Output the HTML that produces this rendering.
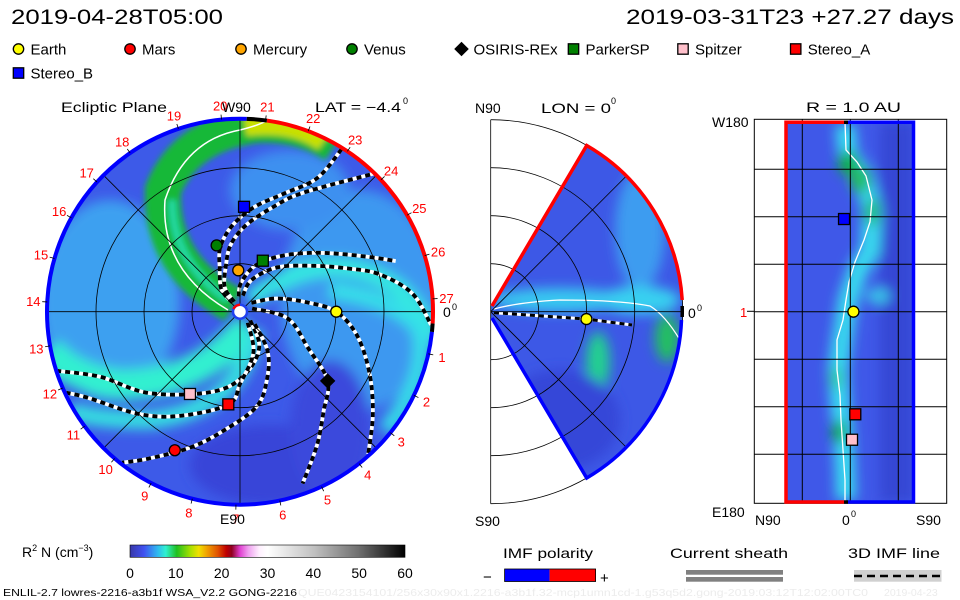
<!DOCTYPE html>
<html><head><meta charset="utf-8"><style>
html,body{margin:0;padding:0;background:#fff;}
svg{display:block;font-family:"Liberation Sans",sans-serif;}
</style></head><body>
<svg id="root" width="960" height="600" viewBox="0 0 960 600" xmlns="http://www.w3.org/2000/svg">
<defs>
  <filter id="blur6" x="-30%" y="-30%" width="160%" height="160%"><feGaussianBlur stdDeviation="6"/></filter>
  <filter id="blur3" x="-30%" y="-30%" width="160%" height="160%"><feGaussianBlur stdDeviation="3"/></filter>
  <clipPath id="clipMain"><circle cx="240" cy="311.7" r="193"/></clipPath>
  <clipPath id="clipMid"><path d="M491,306 L587,145.5 A192,192 0 0 1 587,478 L491,318 Z"/></clipPath>
  <clipPath id="clipRight"><rect x="786" y="122" width="128" height="380"/></clipPath>
  <linearGradient id="cbar" x1="0" x2="1" y1="0" y2="0">
    <stop offset="0" stop-color="#3838a8"/><stop offset="0.05" stop-color="#4050f0"/>
    <stop offset="0.1" stop-color="#30b8f0"/><stop offset="0.13" stop-color="#30f0d0"/>
    <stop offset="0.17" stop-color="#20c020"/><stop offset="0.22" stop-color="#a8e000"/>
    <stop offset="0.25" stop-color="#f0e000"/><stop offset="0.28" stop-color="#f0a000"/>
    <stop offset="0.32" stop-color="#e05000"/><stop offset="0.35" stop-color="#c00000"/>
    <stop offset="0.37" stop-color="#900020"/><stop offset="0.4" stop-color="#e040d0"/>
    <stop offset="0.43" stop-color="#f0a0f0"/><stop offset="0.47" stop-color="#fff0ff"/>
    <stop offset="0.5" stop-color="#ffffff"/><stop offset="0.67" stop-color="#c0c0c0"/>
    <stop offset="0.83" stop-color="#707070"/><stop offset="1" stop-color="#000000"/>
  </linearGradient>
</defs>

<text x="11" y="24" font-size="21" textLength="212" lengthAdjust="spacingAndGlyphs">2019-04-28T05:00</text>
<text x="626" y="24" font-size="21" textLength="328" lengthAdjust="spacingAndGlyphs">2019-03-31T23 +27.27 days</text>

<g id="legend" font-size="15"></g>

<g id="main">
  <g clip-path="url(#clipMain)">
    <circle cx="240" cy="311.7" r="193" fill="#3d5ae8"/>
    <g filter="url(#blur6)">
      <ellipse cx="110" cy="300" rx="70" ry="100" fill="#3ca0f0"/>
      <ellipse cx="360" cy="300" rx="80" ry="110" fill="#3c98f0" />
      <ellipse cx="290" cy="190" rx="60" ry="40" fill="#3c90f0"/>
      <ellipse cx="270" cy="465" rx="80" ry="40" fill="#3744d8"/>
      <ellipse cx="330" cy="430" rx="40" ry="70" fill="#3a48dc"/>
      <path d="M250,300 Q330,240 400,290 Q430,320 430,340" stroke="#35e8e0" stroke-width="18" fill="none"/>
      <path d="M248,325 Q200,385 120,385 Q70,378 48,350" stroke="#30f0d0" stroke-width="30" fill="none"/>
      <path d="M255,330 Q240,410 150,420 Q90,420 70,410" stroke="#35e0e0" stroke-width="18" fill="none"/>
      <path d="M330,290 Q400,300 420,330 Q430,380 385,430" stroke="#35e0e8" stroke-width="16" fill="none"/>
    </g>
    <g filter="url(#blur3)">
      <path d="M233,305 Q160,265 163,190 Q185,135 255,125 Q300,122 335,145" stroke="#18b838" stroke-width="36" fill="none"/>
      <path d="M245,124 Q295,118 325,140" stroke="#c8e000" stroke-width="24" fill="none"/>
      <path d="M228,300 Q172,262 172,200" stroke="#20d8a0" stroke-width="8" fill="none"/>
    </g>
    <path d="M228,310 Q160,270 165,200 Q185,140 240,130 Q260,125 268,120" stroke="#fff" stroke-width="1.5" fill="none"/>
    <g id="fieldLines"></g>
  </g>
  <g stroke="#000" stroke-width="0.8" fill="none">
    <circle cx="240" cy="311.7" r="48"/><circle cx="240" cy="311.7" r="96"/><circle cx="240" cy="311.7" r="144"/>
    <line x1="47" y1="311.7" x2="433" y2="311.7"/><line x1="240" y1="118.7" x2="240" y2="504.7"/>
    <line x1="103.5" y1="175.2" x2="376.5" y2="448.2"/><line x1="103.5" y1="448.2" x2="376.5" y2="175.2"/>
  </g>
  <g id="ring"></g>
  <circle cx="240" cy="311.7" r="7" fill="#fff" stroke="#2040f0" stroke-width="2.5"/>
  <path d="M233.5,309 A7,7 0 0 1 240,304.7" stroke="#f00" stroke-width="2.5" fill="none"/>
  <g id="mainBodies"></g>
  <g id="angleLabels" fill="#f00" font-size="13"></g>
  <text x="61" y="112" font-size="14" textLength="106" lengthAdjust="spacingAndGlyphs">Ecliptic Plane</text>
  <text x="222" y="112" font-size="14">W90</text>
  <text x="220" y="524" font-size="14">E90</text>
  <text x="315" y="112" font-size="14" textLength="86" lengthAdjust="spacingAndGlyphs">LAT = −4.4</text>
  <text x="403" y="104" font-size="9">0</text>
  <text x="443" y="317" font-size="14">0</text>
  <text x="452" y="310" font-size="9">0</text>
</g>

<g id="mid">
  <g clip-path="url(#clipMid)">
    <rect x="480" y="140" width="210" height="345" fill="#3d58e6"/>
    <g filter="url(#blur6)">
      <ellipse cx="640" cy="230" rx="25" ry="60" fill="#3c9cf0"/>
      <ellipse cx="560" cy="300" rx="70" ry="12" fill="#38c8f0"/>
      <ellipse cx="640" cy="300" rx="40" ry="14" fill="#38d0f0"/>
      <ellipse cx="598" cy="362" rx="12" ry="30" fill="#20d090"/>
      <ellipse cx="667" cy="338" rx="12" ry="24" fill="#20c060"/>
      <ellipse cx="560" cy="420" rx="60" ry="50" fill="#3646d8"/>
    </g>
    <path d="M494,309 Q520,302 560,300 Q620,300 650,306 Q665,315 680,340" stroke="#fff" stroke-width="1.3" fill="none"/>
    <path d="M494,312.7 L586,319 L632,325" stroke="#fff" stroke-width="3" fill="none"/>
    <path d="M494,312.7 L586,319 L632,325" stroke="#000" stroke-width="3" stroke-dasharray="5,4" fill="none"/>
  </g>
  <g stroke="#000" stroke-width="0.8" fill="none">
    <line x1="490.7" y1="119.7" x2="490.7" y2="503.7"/>
    <path d="M490.7,263.7 A48,48 0 0 1 490.7,359.7"/>
    <path d="M490.7,215.7 A96,96 0 0 1 490.7,407.7"/>
    <path d="M490.7,167.7 A144,144 0 0 1 490.7,455.7"/>
    <path d="M490.7,119.7 A192,192 0 0 1 490.7,503.7"/>
    <line x1="490.7" y1="311.7" x2="682.7" y2="311.7"/>
    <line x1="490.7" y1="311.7" x2="626.5" y2="175.9"/>
    <line x1="490.7" y1="311.7" x2="626.5" y2="447.5"/>
  </g>
  <path d="M492,306 L586.7,145.5 A192,192 0 0 1 682.2,300" stroke="#f00" stroke-width="3.5" fill="none"/>
  <path d="M682.2,306 A192,192 0 0 1 682.2,317" stroke="#000" stroke-width="3.5" fill="none"/>
  <path d="M681.5,320 A192,192 0 0 1 586.7,478 L492,318" stroke="#00f" stroke-width="3.5" fill="none"/>
  <g id="midBodies"></g>
  <text x="475" y="113" font-size="14">N90</text>
  <text x="541" y="113" font-size="14" textLength="70" lengthAdjust="spacingAndGlyphs">LON = 0</text>
  <text x="611" y="104" font-size="9">0</text>
  <text x="475" y="526" font-size="14">S90</text>
  <text x="688" y="318" font-size="14">0</text>
  <text x="697" y="311" font-size="9">0</text>
</g>

<g id="right">
  <g clip-path="url(#clipRight)">
    <rect x="786" y="122" width="128" height="380" fill="#3f58e8"/>
    <g filter="url(#blur6)">
      <rect x="880" y="122" width="34" height="380" fill="#3646d4"/>
      <path d="M845,125 L848,155 L862,175 L872,210 L870,250 L858,270 L848,300 L842,340 L838,370 L840,400 L843,430 L845,470 L846,500" stroke="#38d8ee" stroke-width="20" fill="none"/>
      <ellipse cx="848" cy="163" rx="10" ry="12" fill="#10b040"/>
      <ellipse cx="860" cy="180" rx="10" ry="14" fill="#20c060"/>
      <ellipse cx="872" cy="212" rx="8" ry="14" fill="#20c080"/>
      <ellipse cx="878" cy="296" rx="12" ry="8" fill="#38c8e8"/>
      <ellipse cx="839" cy="432" rx="7" ry="12" fill="#10b040"/>
      <ellipse cx="836" cy="378" rx="6" ry="12" fill="#30d0a0"/>
    </g>
    <path d="M845,122 L846,150 L857,162 L866,176 L872,200 L870,222 L864,240 L855,262 L849,282 L846,300 L843,320 L837,340 L837,370 L840,395 L841,420 L843,450 L845,480 L845,502" stroke="#fff" stroke-width="1.3" fill="none"/>
  </g>
  <g stroke="#000" stroke-width="1" fill="none">
    <rect x="754.3" y="119.3" width="192.4" height="384"/>
    <line x1="802.3" y1="119.3" x2="802.3" y2="503.3"/><line x1="850.3" y1="119.3" x2="850.3" y2="503.3"/><line x1="898.3" y1="119.3" x2="898.3" y2="503.3"/>
    <g id="hgrid"></g>
  </g>
  <path d="M844,122.3 L786,122.3 L786,502 L844,502" stroke="#f00" stroke-width="3.5" fill="none"/>
  <path d="M848,122.3 L913.5,122.3 L913.5,502 L848,502" stroke="#00f" stroke-width="3.5" fill="none"/>
  <line x1="844" y1="122.3" x2="848" y2="122.3" stroke="#000" stroke-width="3.5"/>
  <line x1="844" y1="502" x2="848" y2="502" stroke="#000" stroke-width="3.5"/>
  <line x1="747" y1="311.3" x2="754" y2="311.3" stroke="#000" stroke-width="1"/>
  <g id="rightBodies"></g>
  <text x="712" y="127" font-size="14">W180</text>
  <text x="806" y="112" font-size="14" textLength="95" lengthAdjust="spacingAndGlyphs">R = 1.0 AU</text>
  <text x="712" y="517" font-size="14">E180</text>
  <text x="740" y="317" font-size="13" fill="#f00">1</text>
  <text x="755" y="525" font-size="14">N90</text>
  <text x="842" y="525" font-size="14">0</text>
  <text x="851" y="517" font-size="9">0</text>
  <text x="916" y="525" font-size="14">S90</text>
</g>

<g>
  <text x="22" y="557" font-size="14">R<tspan font-size="9" dy="-6">2</tspan><tspan dy="6"> N (cm</tspan><tspan font-size="9" dy="-6">−3</tspan><tspan dy="6">)</tspan></text>
  <rect x="130" y="545" width="275" height="12.3" fill="url(#cbar)" stroke="#000" stroke-width="0.6"/>
  <g id="cbTicks" font-size="14" text-anchor="middle"></g>
</g>
<g>
  <text x="503" y="558" font-size="14" textLength="90" lengthAdjust="spacingAndGlyphs">IMF polarity</text>
  <text x="483" y="582" font-size="15">−</text>
  <rect x="504.6" y="569" width="45" height="12.5" fill="#00f"/>
  <rect x="549.6" y="569" width="46" height="12.5" fill="#f00"/>
  <rect x="504.6" y="569" width="91" height="12.5" fill="none" stroke="#000" stroke-width="0.8"/>
  <text x="600" y="583" font-size="15">+</text>
</g>
<g>
  <text x="670" y="558" font-size="14" textLength="118" lengthAdjust="spacingAndGlyphs">Current sheath</text>
  <rect x="686" y="570" width="97" height="4.7" fill="#808080"/>
  <rect x="686" y="577" width="97" height="4.7" fill="#808080"/>
</g>
<g>
  <text x="848" y="558" font-size="14" textLength="92" lengthAdjust="spacingAndGlyphs">3D IMF line</text>
  <rect x="854" y="570" width="87.5" height="11.7" fill="#d0d0d0"/>
  <line x1="854" y1="576" x2="941.5" y2="576" stroke="#000" stroke-width="2.5" stroke-dasharray="8,5"/>
</g>
<text x="3" y="596" font-size="10.5" textLength="294" lengthAdjust="spacingAndGlyphs">ENLIL-2.7 lowres-2216-a3b1f WSA_V2.2 GONG-2216</text>
<text x="298" y="596" font-size="10.5" fill="#ececec" textLength="570" lengthAdjust="spacingAndGlyphs">QUE0423154101/256x30x90x1.2216-a3b1f.32-mcp1umn1cd-1.g53q5d2.gong-2019:03:12T12:02:00TC0</text>
<text x="884" y="596" font-size="10.5" fill="#ececec">2019-04-23</text>
</svg>

<script>
const NS = "http://www.w3.org/2000/svg";
// ---- data ----
const bodyNames = ["Earth","Mars","Mercury","Venus","OSIRIS-REx","ParkerSP","Spitzer","Stereo_A","Stereo_B"];
const bodyShapes = ["circle","circle","circle","circle","diamond","square","square","square","square"];
const bodyColors = ["#ffff00","#ff0000","#ffa500","#008000","#000000","#008000","#ffc0cb","#ff0000","#0000ff"];
const bodyRadiusAU = [1.0, 1.59, 0.43, 0.73, 1.16, 0.58, 1.0, 0.97, 1.09];
const bodyLonDeg = [0, -115.2, 92.4, 109.4, -38.3, 65.9, -121.3, -97.2, 87.8];
const bodyLatDeg = [-4.4, 0, 0, 0, 0, 0, -2.4, -7, 8.8];
const rightPanelBodies = ["Earth","Stereo_B","Stereo_A","Spitzer"];
const colorbarTicks = [0,10,20,30,40,50,60];
const latGridLons = [135,90,45,0,-45,-90,-135];
const fieldLines = [
 [[0.12,130],[0.3,130],[0.5,115],[0.7,107],[0.9,95],[1.1,82],[1.3,70],[1.6,60],[1.99,58]],
 [[0.12,120],[0.3,122],[0.5,107],[0.7,98],[0.9,86],[1.15,72],[1.4,62],[1.99,46]],
 [[0.16,95],[0.3,88],[0.5,72],[0.7,55],[0.95,40],[1.2,30],[1.5,22],[1.7,18]],
 [[0.17,80],[0.35,70],[0.6,50],[0.9,32],[1.2,22],[1.5,15],[1.8,6],[1.99,-4]],
 [[0.15,38],[0.4,20],[0.7,8],[1.0,0],[1.25,-12],[1.5,-26],[1.75,-38],[1.99,-48]],
 [[0.13,15],[0.5,-8],[0.8,-28],[1.16,-38.3],[1.35,-50],[1.6,-60],[1.9,-70]],
 [[0.14,-40],[0.4,-60],[0.6,-80],[0.8,-100],[1.0,-121],[1.3,-140],[1.6,-155],[1.99,-162]],
 [[0.14,-55],[0.45,-72],[0.75,-90],[0.97,-97],[1.25,-120],[1.5,-135],[1.8,-150],[1.99,-155]],
 [[0.2,-40],[0.5,-55],[0.75,-68],[1.0,-80],[1.25,-98],[1.5,-110],[1.8,-122],[1.99,-128]]
];
// ---- scales ----
const cx = 240, cy = 311.7, pxPerAU = 96.3;
function polar(rAU, lonDeg){ const a = -lonDeg*Math.PI/180; return [cx + rAU*pxPerAU*Math.cos(a), cy + rAU*pxPerAU*Math.sin(a)]; }
const rx0 = 850.3, ry0 = 311.7;
function rightX(lat){ return rx0 - lat*(128.3/180); }
function rightY(lon){ return ry0 - lon*(380/360); }
function cbX(v){ return 130 + v/60*275; }
function smooth(pts){
  let d = "M"+pts[0][0].toFixed(1)+","+pts[0][1].toFixed(1);
  for(let i=0;i<pts.length-1;i++){
    const p0=pts[Math.max(0,i-1)],p1=pts[i],p2=pts[i+1],p3=pts[Math.min(pts.length-1,i+2)];
    const c1=[p1[0]+(p2[0]-p0[0])/6,p1[1]+(p2[1]-p0[1])/6], c2=[p2[0]-(p3[0]-p1[0])/6,p2[1]-(p3[1]-p1[1])/6];
    d+=" C"+c1[0].toFixed(1)+","+c1[1].toFixed(1)+" "+c2[0].toFixed(1)+","+c2[1].toFixed(1)+" "+p2[0].toFixed(1)+","+p2[1].toFixed(1);
  }
  return d;
}
function mk(tag, attrs, parent){ const e=document.createElementNS(NS,tag); for(const k in attrs) e.setAttribute(k,attrs[k]); parent.appendChild(e); return e; }
function marker(parent, shape, color, x, y, s){
  let e;
  if(shape==="circle") e = mk("circle",{cx:x,cy:y,r:s,fill:color,stroke:"#000","stroke-width":1.3},parent);
  else if(shape==="square") e = mk("rect",{x:x-s,y:y-s,width:2*s,height:2*s,fill:color,stroke:"#000","stroke-width":1.3},parent);
  else e = mk("path",{d:`M${x},${y-s*1.4} L${x+s*1.4},${y} L${x},${y+s*1.4} L${x-s*1.4},${y} Z`,fill:color},parent);
  return e;
}
// ---- legend ----
const legend = document.getElementById("legend");
const legX = [18.5,130,241,352,461.5,573.5,683,795.7,18.5];
const legY = [49,49,49,49,49,49,49,49,73];
bodyNames.forEach((n,i)=>{
  const g = mk("g",{},legend);
  
  
  marker(g, bodyShapes[i], bodyColors[i], legX[i], legY[i], 5.2);
  const t = mk("text",{x:legX[i]+12,y:legY[i]+5.5},g); t.textContent = n;
});
// ---- field lines ----
const fl = document.getElementById("fieldLines");
fieldLines.forEach((line)=>{
  const pts = line.map(p=>polar(p[0],p[1]));
  const d = smooth(pts);
  const w = mk("path",{d:d,stroke:"#fff","stroke-width":3.8,fill:"none"},fl);
  
  
  const b = mk("path",{d:d,stroke:"#000","stroke-width":3.8,fill:"none","stroke-dasharray":"5,4"},fl);
  
  
});
// ---- outer ring ----
const ring = document.getElementById("ring");
function arc(a0,a1,color){
  const r=193, p0=[cx+r*Math.cos(a0*Math.PI/180), cy+r*Math.sin(a0*Math.PI/180)], p1=[cx+r*Math.cos(a1*Math.PI/180), cy+r*Math.sin(a1*Math.PI/180)];
  const large = ((a1-a0+360)%360)>180?1:0;
  const e = mk("path",{d:`M${p0[0]},${p0[1]} A${r},${r} 0 ${large} 1 ${p1[0]},${p1[1]}`,stroke:color,"stroke-width":4,fill:"none"},ring);
  
  
}
arc(-82,3.5,"#ff0000"); arc(3.5,6,"#000"); arc(6,272,"#0000ff"); arc(272,278,"#000");
// ---- angle labels ----
const al = document.getElementById("angleLabels");
for(let n=1;n<=27;n++){
  const ang = n<=18 ? 12.6+(n-1)*13.1 : -3.8-(27-n)*13.1;
  const a = ang*Math.PI/180, R = 207;
  const t = mk("text",{x:(cx+R*Math.cos(a)).toFixed(1), y:(cy+R*Math.sin(a)+5).toFixed(1),"text-anchor":"middle"},al);
  
  
  t.textContent = String(n);
  const p0=[cx+193*Math.cos(a),cy+193*Math.sin(a)], p1=[cx+198*Math.cos(a),cy+198*Math.sin(a)];
  mk("line",{x1:p0[0],y1:p0[1],x2:p1[0],y2:p1[1],stroke:"#000","stroke-width":0.8},al);
}
// ---- bodies on ecliptic ----
const mb = document.getElementById("mainBodies");
bodyNames.forEach((n,i)=>{
  const [x,y] = polar(bodyRadiusAU[i], bodyLonDeg[i]);
  const e = marker(mb, bodyShapes[i], bodyColors[i], x, y, 5.5);
  
  
});
// ---- mid panel earth ----
const midB = document.getElementById("midBodies");
{
  const a = bodyLatDeg[0]*Math.PI/180, r = bodyRadiusAU[0]*96;
  const e = marker(midB,"circle",bodyColors[0],490.7+r*Math.cos(a),311.7-r*Math.sin(a),5.5);
  
  
}
// ---- right panel ----
const hg = document.getElementById("hgrid");
latGridLons.forEach(l=>{ mk("line",{x1:754.3,x2:946.7,y1:rightY(l),y2:rightY(l)},hg); });
const rb = document.getElementById("rightBodies");
rightPanelBodies.forEach(n=>{
  const i = bodyNames.indexOf(n);
  const e = marker(rb, bodyShapes[i], bodyColors[i], rightX(bodyLatDeg[i]), rightY(bodyLonDeg[i]), 5.5);
  
  
});
// ---- colorbar ticks ----
const ct = document.getElementById("cbTicks");
colorbarTicks.forEach(v=>{
  const t = mk("text",{x:cbX(v),y:578},ct);
  
  
  t.textContent = String(v);
});
</script>
</body></html>
